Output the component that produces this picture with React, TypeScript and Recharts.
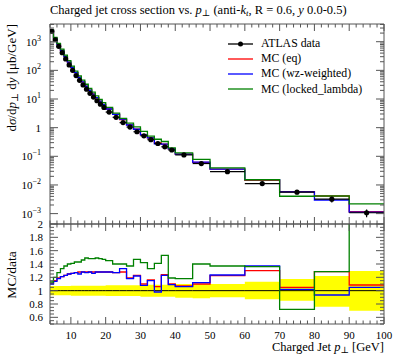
import React from 'react';
import { ComposedChart, Line, Scatter, ErrorBar, XAxis, YAxis, Area, Legend } from 'recharts';

const W = 397;
const H = 358;
const FONT = '"Liberation Serif", "DejaVu Serif", serif';
const FRAME = '#555';

// bin edges in charged jet pT [GeV]
const binEdges = [4, 5, 6, 7, 8, 9, 10, 11, 12, 13, 14, 15, 16, 17, 18, 19, 20, 22, 24, 26, 28, 30, 32, 34, 36, 38, 40, 45, 50, 60, 70, 80, 90, 100];
// ATLAS data cross section [mub/GeV]
const dataValues = [2300, 1170, 690, 415, 250, 155, 100, 66, 45, 31, 22, 15.8, 11.7, 8.7, 6.6, 5.1, 3.5, 2.3, 1.5, 1.05, 0.72, 0.52, 0.38, 0.28, 0.215, 0.166, 0.112, 0.056, 0.029, 0.0112, 0.0056, 0.0032, 0.00107];
// relative data uncertainty band (lower / upper)
const bandLow = [0.93, 0.93, 0.93, 0.93, 0.93, 0.93, 0.925, 0.925, 0.925, 0.925, 0.925, 0.925, 0.925, 0.925, 0.925, 0.925, 0.92, 0.92, 0.92, 0.92, 0.92, 0.91, 0.91, 0.91, 0.91, 0.91, 0.895, 0.885, 0.9, 0.87, 0.85, 0.76, 0.7];
const bandHigh = [1.07, 1.07, 1.07, 1.07, 1.07, 1.07, 1.075, 1.075, 1.075, 1.075, 1.075, 1.075, 1.075, 1.075, 1.075, 1.075, 1.08, 1.08, 1.08, 1.08, 1.08, 1.09, 1.09, 1.09, 1.09, 1.09, 1.1, 1.1, 1.1, 1.135, 1.175, 1.22, 1.295];
// MC / data ratios
const ratioEq = [1.11, 1.15, 1.19, 1.21, 1.23, 1.25, 1.26, 1.27, 1.28, 1.28, 1.28, 1.28, 1.28, 1.28, 1.28, 1.28, 1.28, 1.27, 1.28, 1.19, 1.23, 1.1, 1.16, 1.06, 1.24, 1.1, 1.07, 1.1, 1.225, 1.3, 1.05, 1.285, 1.085];
const ratioWz = [1.1, 1.14, 1.18, 1.21, 1.23, 1.25, 1.26, 1.27, 1.25, 1.28, 1.27, 1.28, 1.26, 1.28, 1.28, 1.28, 1.28, 1.27, 1.33, 1.18, 1.22, 1.08, 1.15, 0.98, 1.23, 1.09, 1.06, 1.12, 1.235, 1.37, 1.02, 0.935, 1.05];
const ratioLocked = [1.13, 1.2, 1.27, 1.33, 1.37, 1.4, 1.41, 1.43, 1.43, 1.46, 1.49, 1.48, 1.48, 1.49, 1.48, 1.47, 1.45, 1.4, 1.4, 1.37, 1.47, 1.42, 1.33, 1.41, 1.53, 1.19, 1.18, 1.4, 1.37, 1.36, 0.72, 1.285, 2.05];

const seriesNames = ['ATLAS data', 'MC (eq)', 'MC (wz-weighted)', 'MC (locked_lambda)'];
const seriesColors = ['#000000', '#ff0000', '#0000ff', '#008000'];

const xMajorTicks = [10, 20, 30, 40, 50, 60, 70, 80, 90, 100];
const xMinorStep = 2;
const logMajors = [1e-3, 1e-2, 1e-1, 1, 10, 100, 1000];
const logLabels = [['10', '−3'], ['10', '−2'], ['10', '−1'], ['1', ''], ['10', '1'], ['10', '2'], ['10', '3']];
const ratioMajors = [0.6, 0.8, 1, 1.2, 1.4, 1.6, 1.8, 2];
const ratioLabels = ['0.6', '0.8', '1', '1.2', '1.4', '1.6', '1.8', '2'];

const xDomain: [number, number] = [4, 100];
const logDomain: [number, number] = [4.34e-4, 4150];
const ratioDomain: [number, number] = [0.5, 2];

// tick positions
const xTicks: number[] = [];
for (let v = xDomain[0]; v <= xDomain[1]; v += xMinorStep) xTicks.push(v);
const logTicks: number[] = [];
logMajors.forEach((m) => {
  for (let k = 1; k <= 9; k++) {
    const t = m * k;
    if (t >= logDomain[0] && t <= logDomain[1]) logTicks.push(t);
  }
});
const ratioTicks: number[] = [];
for (let i = 0; i <= 30; i++) ratioTicks.push(Math.round((0.5 + i * 0.05) * 100) / 100);

// tables built from arrays
const stepRows = (vals: number[]) => binEdges.map((e, i) => ({ x: e, y: vals[Math.min(i, vals.length - 1)] }));
const mcEq = dataValues.map((v, i) => v * ratioEq[i]);
const mcWz = dataValues.map((v, i) => v * ratioWz[i]);
const mcLocked = dataValues.map((v, i) => v * ratioLocked[i]);
const dataRatio = dataValues.map((v) => v / v);
const pointRows = dataValues.map((v, i) => {
  const lo = binEdges[i];
  const hi = binEdges[i + 1];
  const c = (lo + hi) / 2;
  return { x: c, y: v, ex: [c - lo, hi - c], ey: [v * (1 - bandLow[i]), v * (bandHigh[i] - 1)] };
});
const bandRows = binEdges.map((e, i) => {
  const j = Math.min(i, bandLow.length - 1);
  return { x: e, band: [bandLow[j], bandHigh[j]] };
});

const XTick = (props: any) => {
  const { x, y, payload, dir, labels } = props;
  const v = payload.value;
  const major = xMajorTicks.includes(v);
  const len = major ? 7 : 3.5;
  return (
    <g>
      <line x1={x} x2={x} y1={y} y2={y + dir * len} stroke={FRAME} strokeWidth={1} />
      {labels && major ? (
        <text x={x} y={y + 15} textAnchor="middle" fontSize={11} fontFamily={FONT} fill="#000">
          {v}
        </text>
      ) : null}
    </g>
  );
};

const LogTick = (props: any) => {
  const { x, y, payload, side } = props;
  const v = payload.value;
  const mi = logMajors.findIndex((m) => Math.abs(v / m - 1) < 1e-6);
  const major = mi >= 0;
  const dir = side === 'left' ? 1 : -1;
  const len = major ? 8 : 4;
  return (
    <g>
      <line x1={x} x2={x + dir * len} y1={y} y2={y} stroke={FRAME} strokeWidth={1} />
      {side === 'left' && major ? (
        <text x={x - 9} y={y + 4} textAnchor="end" fontSize={11} fontFamily={FONT} fill="#000">
          {logLabels[mi][0]}
          {logLabels[mi][1] ? (
            <tspan dy={-5} fontSize={8}>
              {logLabels[mi][1]}
            </tspan>
          ) : null}
        </text>
      ) : null}
    </g>
  );
};

const RatioTick = (props: any) => {
  const { x, y, payload, side } = props;
  const v = payload.value;
  const mi = ratioMajors.findIndex((m) => Math.abs(v - m) < 1e-6);
  const major = mi >= 0;
  const dir = side === 'left' ? 1 : -1;
  const len = major ? 8 : 4;
  return (
    <g>
      <line x1={x} x2={x + dir * len} y1={y} y2={y} stroke={FRAME} strokeWidth={1} />
      {side === 'left' && major ? (
        <text x={x - 7} y={y + 4} textAnchor="end" fontSize={11} fontFamily={FONT} fill="#000">
          {ratioLabels[mi]}
        </text>
      ) : null}
    </g>
  );
};

const LegendBox = () => (
  <div style={{ fontFamily: FONT, fontSize: 11.8, color: '#000' }}>
    {seriesNames.map((n, i) => (
      <div key={n} style={{ display: 'flex', alignItems: 'center', height: 15.2 }}>
        <svg width={34} height={10} style={{ display: 'block' }}>
          <line x1={1} x2={26} y1={5} y2={5} stroke={seriesColors[i]} strokeWidth={1.3} />
          {i === 0 ? <circle cx={13.5} cy={5} r={2.5} fill="#000" /> : null}
        </svg>
        <span style={{ whiteSpace: 'nowrap' }}>{n}</span>
      </div>
    ))}
  </div>
);

const pointShape = (p: any) => <circle cx={p.cx} cy={p.cy} r={2.6} fill="#000" />;

const PLOT_L = 50;
const PLOT_R = 384;
const TOP_T = 24;
const TOP_B = 224;
const RAT_B = 324;

const axisCommon = {
  tickSize: 0,
  tickMargin: 0,
  interval: 0 as const,
  axisLine: { stroke: FRAME },
  tickLine: false,
  allowDataOverflow: true,
  type: 'number' as const,
};

export default function App() {
  return (
    <div style={{ position: 'absolute', left: 0, top: 0, width: W, height: H, background: '#fff' }}>
      {/* main panel */}
      <div style={{ position: 'absolute', left: 0, top: 0 }}>
        <ComposedChart width={W} height={TOP_B + 10} margin={{ top: 0, bottom: 0, left: 0, right: 0 }}>
          <XAxis {...axisCommon} xAxisId="xb" dataKey="x" domain={xDomain} orientation="bottom" height={10} ticks={xTicks} tick={(p: any) => <XTick {...p} dir={-1} labels={false} />} />
          <XAxis {...axisCommon} xAxisId="xt" dataKey="x" domain={xDomain} orientation="top" height={TOP_T} ticks={xTicks} tick={(p: any) => <XTick {...p} dir={1} labels={false} />} />
          <YAxis {...axisCommon} yAxisId="yl" scale="log" domain={logDomain} orientation="left" width={PLOT_L} ticks={logTicks} tick={(p: any) => <LogTick {...p} side="left" />} />
          <YAxis {...axisCommon} yAxisId="yr" scale="log" domain={logDomain} orientation="right" width={W - PLOT_R} ticks={logTicks} tick={(p: any) => <LogTick {...p} side="right" />} />
          <Legend layout="horizontal" verticalAlign="middle" align="center" content={() => <LegendBox />} wrapperStyle={{ position: 'absolute', left: 227, top: 36, width: 168 }} />
          <Line xAxisId="xt" yAxisId="yr" data={stepRows(mcEq)} dataKey="y" type="stepAfter" stroke={seriesColors[1]} strokeWidth={1.3} dot={false} activeDot={false} isAnimationActive={false} name={seriesNames[1]} />
          <Line xAxisId="xb" yAxisId="yl" data={stepRows(mcWz)} dataKey="y" type="stepAfter" stroke={seriesColors[2]} strokeWidth={1.3} dot={false} activeDot={false} isAnimationActive={false} name={seriesNames[2]} />
          <Line xAxisId="xt" yAxisId="yl" data={stepRows(mcLocked)} dataKey="y" type="stepAfter" stroke={seriesColors[3]} strokeWidth={1.3} dot={false} activeDot={false} isAnimationActive={false} name={seriesNames[3]} />
          <Scatter xAxisId="xb" yAxisId="yr" data={pointRows} dataKey="y" shape={pointShape} isAnimationActive={false} name={seriesNames[0]}>
            <ErrorBar dataKey="ex" direction="x" width={0} stroke="#000" strokeWidth={1.2} isAnimationActive={false} />
            <ErrorBar dataKey="ey" direction="y" width={0} stroke="#000" strokeWidth={1.2} isAnimationActive={false} />
          </Scatter>
        </ComposedChart>
      </div>
      {/* ratio panel */}
      <div style={{ position: 'absolute', left: 0, top: 0 }}>
        <ComposedChart width={W} height={H} margin={{ top: 0, bottom: 0, left: 0, right: 0 }}>
          <XAxis {...axisCommon} xAxisId="xb" dataKey="x" domain={xDomain} orientation="bottom" height={H - RAT_B} ticks={xTicks} tick={(p: any) => <XTick {...p} dir={-1} labels={true} />} />
          <XAxis {...axisCommon} xAxisId="xt" dataKey="x" domain={xDomain} orientation="top" height={TOP_B} ticks={xTicks} tick={(p: any) => <XTick {...p} dir={1} labels={false} />} />
          <YAxis {...axisCommon} yAxisId="yl" domain={ratioDomain} orientation="left" width={PLOT_L} ticks={ratioTicks} tick={(p: any) => <RatioTick {...p} side="left" />} />
          <YAxis {...axisCommon} yAxisId="yr" domain={ratioDomain} orientation="right" width={W - PLOT_R} ticks={ratioTicks} tick={(p: any) => <RatioTick {...p} side="right" />} />
          <Area xAxisId="xb" yAxisId="yl" data={bandRows} dataKey="band" type="stepAfter" fill="#ffff00" fillOpacity={1} stroke="none" isAnimationActive={false} />
          <Line xAxisId="xt" yAxisId="yr" data={stepRows(dataRatio)} dataKey="y" type="stepAfter" stroke="#000" strokeWidth={1} dot={false} activeDot={false} isAnimationActive={false} />
          <Line xAxisId="xb" yAxisId="yr" data={stepRows(ratioEq)} dataKey="y" type="stepAfter" stroke={seriesColors[1]} strokeWidth={1.3} dot={false} activeDot={false} isAnimationActive={false} />
          <Line xAxisId="xt" yAxisId="yl" data={stepRows(ratioWz)} dataKey="y" type="stepAfter" stroke={seriesColors[2]} strokeWidth={1.3} dot={false} activeDot={false} isAnimationActive={false} />
          <Line xAxisId="xb" yAxisId="yl" data={stepRows(ratioLocked)} dataKey="y" type="stepAfter" stroke={seriesColors[3]} strokeWidth={1.3} dot={false} activeDot={false} isAnimationActive={false} />
        </ComposedChart>
      </div>
      {/* titles and axis labels */}
      <svg width={W} height={H} style={{ position: 'absolute', left: 0, top: 0, pointerEvents: 'none' }}>
        <text x={50} y={14} fontSize={12.5} fontFamily={FONT} fill="#000">
          Charged jet cross section vs.{' '}
          <tspan fontStyle="italic">p</tspan>
          <tspan dy={2} fontSize={9}>⊥</tspan>
          <tspan dy={-2}> (anti-</tspan>
          <tspan fontStyle="italic">k</tspan>
          <tspan dy={2} fontSize={9} fontStyle="italic">t</tspan>
          <tspan dy={-2}>, R = 0.6, </tspan>
          <tspan fontStyle="italic">y</tspan>
          <tspan> 0.0-0.5)</tspan>
        </text>
        <text x={16} y={24} transform="rotate(-90, 16, 24)" textAnchor="end" fontSize={13} fontFamily={FONT} fill="#000">
          d<tspan fontStyle="italic">σ</tspan>/d<tspan fontStyle="italic">p</tspan>
          <tspan dy={2} fontSize={9.5}>⊥</tspan>
          <tspan dy={-2}> d</tspan>
          <tspan fontStyle="italic">y</tspan>
          <tspan> [μb/GeV]</tspan>
        </text>
        <text x={16} y={275} transform="rotate(-90, 16, 275)" textAnchor="middle" fontSize={13.5} fontFamily={FONT} fill="#000">
          MC/data
        </text>
        <text x={384} y={351} textAnchor="end" fontSize={12.5} fontFamily={FONT} fill="#000">
          Charged Jet <tspan fontStyle="italic">p</tspan>
          <tspan dy={2} fontSize={9}>⊥</tspan>
          <tspan dy={-2}> [GeV]</tspan>
        </text>
      </svg>
    </div>
  );
}
